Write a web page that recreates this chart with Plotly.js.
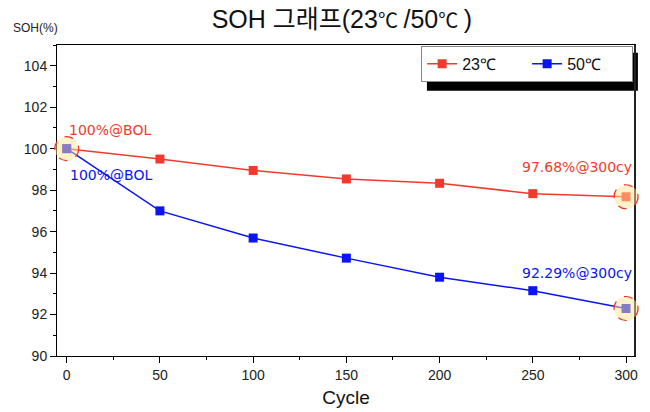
<!DOCTYPE html>
<html><head><meta charset="utf-8">
<script src="https://cdn.plot.ly/plotly-3.0.1.min.js"></script>
<style>body{margin:0;background:#fff}#c{width:650px;height:412px}</style>
</head><body><div id="c"></div>
<script>
const cycles = [0, 50, 100, 150, 200, 250, 300];
const soh23 = [100, 99.5, 98.95, 98.54, 98.33, 97.83, 97.68];
const soh50 = [100, 97.0, 95.69, 94.72, 93.80, 93.15, 92.29];
const seriesNames = ['23℃', '50℃'];
const xTicks = [0, 50, 100, 150, 200, 250, 300];
const yTicks = [90, 92, 94, 96, 98, 100, 102, 104];

const red = '#f23a2c', blue = '#0a14f5';
const last = cycles.length - 1;
const xRange = [-5.2, 304.8], yRange = [90, 105];

const traces = [
  {x: cycles, y: soh23, name: seriesNames[0], mode: 'lines+markers', type: 'scatter',
   line: {color: red, width: 1.5}, marker: {symbol: 'square', size: 9, color: red}},
  {x: cycles, y: soh50, name: seriesNames[1], mode: 'lines+markers', type: 'scatter',
   line: {color: blue, width: 1.5}, marker: {symbol: 'square', size: 9, color: blue}}
];

function ring(x, y) {
  const px = (x - xRange[0]) / (xRange[1] - xRange[0]);
  const py = (y - yRange[0]) / (yRange[1] - yRange[0]);
  return {type: 'circle', xref: 'paper', yref: 'paper', xsizemode: 'pixel', ysizemode: 'pixel',
    xanchor: px, yanchor: py, x0: -12, x1: 12, y0: -12, y1: 12,
    fillcolor: 'rgba(255,228,150,0.5)', line: {color: '#e8302a', width: 1.2, dash: 'dash'}, layer: 'above'};
}

const tickFont = {family: 'Liberation Sans, Arial, sans-serif', size: 14, color: '#222'};
const annFont = (c) => ({family: 'DejaVu Sans, sans-serif', size: 14, color: c});

const layout = {
  width: 650, height: 412,
  margin: {l: 57, r: 15, t: 45, b: 56},
  paper_bgcolor: '#fff', plot_bgcolor: '#fff',
  title: {text: 'SOH 그래프(23<span style="font-size:20px">℃ </span>/50<span style="font-size:20px">℃ </span>)',
    x: 0.526, xanchor: 'center', y: 0.953, yanchor: 'middle',
    font: {family: 'Liberation Sans, Noto Sans CJK KR, sans-serif', size: 25, color: '#111'}},
  showlegend: true,
  legend: {orientation: 'h', x: 0.630, xanchor: 'left', y: 0.997, yanchor: 'top',
    bgcolor: '#fff', bordercolor: '#888', borderwidth: 1,
    font: {family: 'Liberation Sans, Arial, sans-serif', size: 16, color: '#111'},
    entrywidth: 60, entrywidthmode: 'pixels', tracegroupgap: 0},
  xaxis: {range: xRange, tickvals: xTicks, ticktext: xTicks.map(String),
    ticks: 'outside', ticklen: 6, tickwidth: 1, tickcolor: '#000',
    minor: {dtick: 25, tick0: 0, ticks: 'outside', ticklen: 3, tickcolor: '#000', showgrid: false},
    showline: true, linecolor: '#000', linewidth: 1, mirror: true, showgrid: false, zeroline: false,
    tickfont: tickFont,
    title: {text: 'Cycle', font: {family: 'Liberation Sans, Arial, sans-serif', size: 19, color: '#111'}, standoff: 8}},
  yaxis: {range: yRange, tickvals: yTicks, ticktext: yTicks.map(String),
    ticks: 'outside', ticklen: 6, tickwidth: 1, tickcolor: '#000',
    minor: {dtick: 1, tick0: 90, ticks: 'outside', ticklen: 3, tickcolor: '#000', showgrid: false},
    showline: true, linecolor: '#000', linewidth: 1, mirror: true, showgrid: false, zeroline: false,
    tickfont: tickFont},
  shapes: [
    {type: 'rect', xref: 'paper', yref: 'paper', x0: 0.640, x1: 1.005, y0: 0.853, y1: 0.975,
     fillcolor: '#000', line: {width: 0}, layer: 'above'},
    {type: 'line', xref: 'paper', yref: 'paper', x0: 1.0, x1: 1.0, y0: 0, y1: 1,
     line: {color: '#222', width: 2}, layer: 'above'},
    ring(cycles[0], soh23[0]),
    ring(cycles[last], soh23[last]),
    ring(cycles[last], soh50[last])
  ],
  annotations: [
    {xref: 'paper', yref: 'paper', x: -0.08, y: 1.055, xanchor: 'left', yanchor: 'middle', showarrow: false,
     text: 'SOH(%)', font: {family: 'Liberation Sans, Arial, sans-serif', size: 12, color: '#222'}},
    {x: cycles[0], y: soh23[0], xref: 'x', yref: 'y', showarrow: false,
     xanchor: 'left', yanchor: 'middle', xshift: 0, yshift: 19,
     text: (soh23[0]) + '%@BOL', font: annFont(red)},
    {x: cycles[0], y: soh50[0], xref: 'x', yref: 'y', showarrow: false,
     xanchor: 'left', yanchor: 'middle', xshift: 1, yshift: -26,
     text: (soh50[0]) + '%@BOL', font: annFont(blue)},
    {x: cycles[last], y: soh23[last], xref: 'x', yref: 'y', showarrow: false,
     xanchor: 'right', yanchor: 'middle', xshift: 8, yshift: 30,
     text: soh23[last].toFixed(2) + '%@' + cycles[last] + 'cy', font: annFont(red)},
    {x: cycles[last], y: soh50[last], xref: 'x', yref: 'y', showarrow: false,
     xanchor: 'right', yanchor: 'middle', xshift: 8, yshift: 36,
     text: soh50[last].toFixed(2) + '%@' + cycles[last] + 'cy', font: annFont(blue)}
  ]
};

Plotly.newPlot('c', traces, layout, {displayModeBar: false, staticPlot: true});
</script></body></html>
